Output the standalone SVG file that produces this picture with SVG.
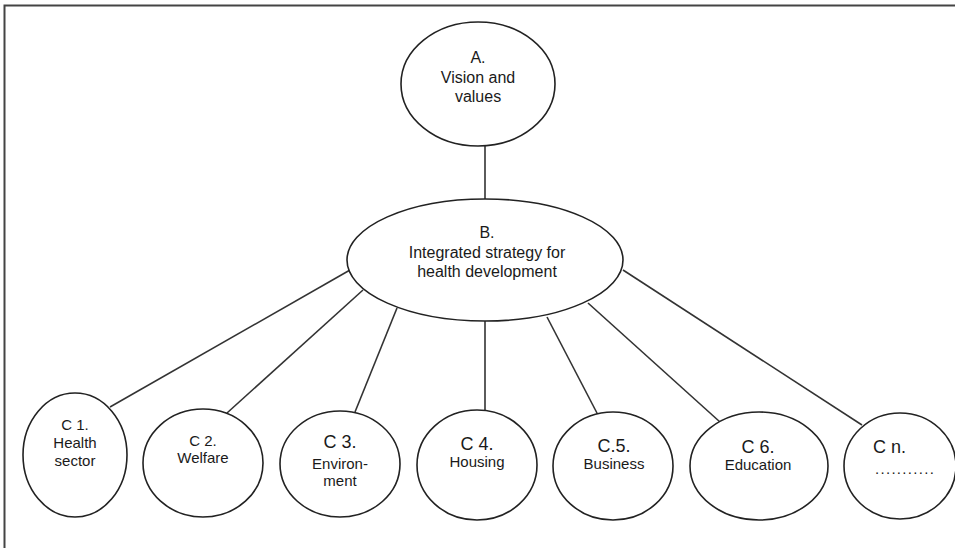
<svg xmlns="http://www.w3.org/2000/svg" width="955" height="548" viewBox="0 0 955 548">
<style>
.n{fill:#fff;stroke:#222;stroke-width:1.6}
.c{stroke:#333;stroke-width:1.6;fill:none}
text{font-family:"Liberation Sans",Arial,sans-serif;fill:#1a1a1a;text-anchor:middle}
.t16{font-size:16px}
.t15{font-size:15px}
.t18{font-size:18px}
</style>
<rect width="955" height="548" fill="#fff"/>
<path d="M4.5,548 V5.5 H955" fill="none" stroke="#444" stroke-width="2"/>
<g id="connectors">
<line class="c" x1="485" y1="146" x2="485" y2="199"/>
<line class="c" x1="110" y1="407" x2="350" y2="270"/>
<line class="c" x1="227" y1="413" x2="363" y2="290"/>
<line class="c" x1="355" y1="412" x2="397" y2="308"/>
<line class="c" x1="485" y1="321" x2="485" y2="411"/>
<line class="c" x1="598" y1="415" x2="547" y2="317"/>
<line class="c" x1="720" y1="422" x2="588" y2="303"/>
<line class="c" x1="862" y1="425" x2="623" y2="270"/>
</g>
<g id="A">
<ellipse class="n" cx="478" cy="84" rx="77" ry="62"/>
<text class="t16" x="478" y="63">A.</text>
<text class="t16" x="478" y="83">Vision and</text>
<text class="t16" x="478" y="102">values</text>
</g>
<g id="B">
<ellipse class="n" cx="485" cy="260" rx="138" ry="61"/>
<text class="t16" x="487" y="238">B.</text>
<text class="t16" x="487" y="258">Integrated strategy for</text>
<text class="t16" x="487" y="277">health development</text>
</g>
<g id="C1">
<ellipse class="n" cx="75" cy="455" rx="52" ry="62"/>
<text class="t15" x="75" y="430">C 1.</text>
<text class="t15" x="75" y="448">Health</text>
<text class="t15" x="75" y="466">sector</text>
</g>
<g id="C2">
<ellipse class="n" cx="203" cy="463" rx="60" ry="54"/>
<text class="t15" x="203" y="446">C 2.</text>
<text class="t15" x="203" y="463">Welfare</text>
</g>
<g id="C3">
<ellipse class="n" cx="340" cy="464" rx="60" ry="53"/>
<text class="t18" x="340" y="448">C 3.</text>
<text class="t15" x="340" y="469">Environ-</text>
<text class="t15" x="340" y="486">ment</text>
</g>
<g id="C4">
<ellipse class="n" cx="477" cy="465" rx="60" ry="55"/>
<text class="t18" x="477" y="450">C 4.</text>
<text class="t15" x="477" y="467">Housing</text>
</g>
<g id="C5">
<ellipse class="n" cx="613" cy="466" rx="60" ry="54"/>
<text class="t18" x="614" y="452">C.5.</text>
<text class="t15" x="614" y="469">Business</text>
</g>
<g id="C6">
<ellipse class="n" cx="759" cy="466" rx="69" ry="54"/>
<text class="t18" x="758" y="453">C 6.</text>
<text class="t15" x="758" y="470">Education</text>
</g>
<g id="Cn">
<ellipse class="n" cx="900" cy="466" rx="56" ry="53"/>
<text class="t18" x="873" y="453" style="text-anchor:start">C n.</text>
<text class="t15" x="875" y="474" style="text-anchor:start;letter-spacing:1.3px">...........</text>
</g>
</svg>
